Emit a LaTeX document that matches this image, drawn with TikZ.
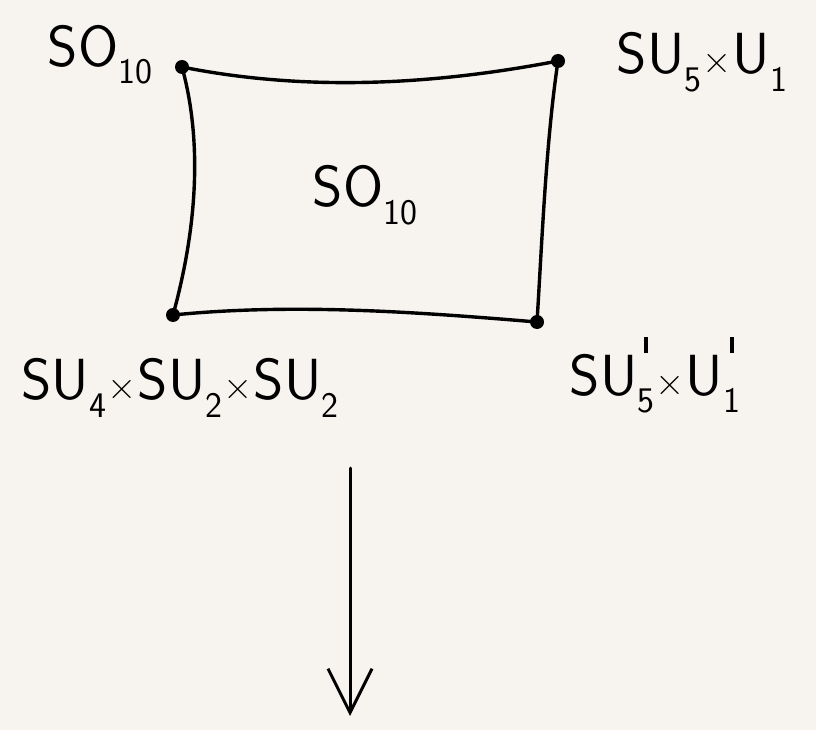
\documentclass[tikz,border=0pt]{standalone}
\usepackage{fontspec}
\usetikzlibrary{arrows.meta}
\newcommand\lsub[1]{\raisebox{-0.3em}{\fontsize{36}{40}\selectfont #1}}
\newcommand\lprime{\rlap{\kern0.12em\raisebox{0.72em}{\rule{0.07em}{0.28em}}}}
\newcommand\lsubp[1]{\lprime\lsub{#1}}
\newcommand\tms{\kern0.02em{\fontsize{40}{44}\selectfont ×}\kern0.02em}
\begin{document}
\begin{tikzpicture}[x=1pt,y=-1pt,
  edge/.style={line width=3.4pt,line cap=round},
  dot/.style={circle,fill=black,inner sep=0pt,minimum size=14pt},
  lab/.style={inner sep=0pt,font=\sffamily\fontsize{58}{64}\selectfont}]
\fill[fill={rgb,255:red,247;green,244;blue,239}] (0,0) rectangle (816,730);
\useasboundingbox (0,0) rectangle (816,730);
\node[dot] (a) at (182,67) {};
\node[dot] (b) at (558,61) {};
\node[dot] (c) at (173,315) {};
\node[dot] (d) at (537,322) {};
\draw[edge] (a.center) .. controls +(120,24) and +(-130,25) .. (b.center);
\draw[edge] (a.center) .. controls +(22,80) and +(22,-80) .. (c.center);
\draw[edge] (b.center) .. controls +(-12,80) and +(5,-80) .. (d.center);
\draw[edge] (c.center) .. controls +(120,-12) and +(-120,-10) .. (d.center);
\node[lab] (l1) at (100,55) {SO\lsub{10}};
\node[lab] (l2) at (702,62) {SU\lsub{5}\tms U\lsub{1}};
\node[lab] (l0) at (365,195) {SO\lsub{10}};
\node[lab] (l3) at (180,388) {SU\lsub{4}\tms SU\lsub{2}\tms SU\lsub{2}};
\node[lab] (l4) at (655,375) {SU\lsubp{5}\tms U\lsubp{1}};
\coordinate (p) at (350,468);
\coordinate (q) at (350,716);
\draw[line width=3pt,line cap=round,-{Straight Barb[length=44pt,width=44pt,line width=3pt]}] (p) -- (q);
\end{tikzpicture}
\end{document}
